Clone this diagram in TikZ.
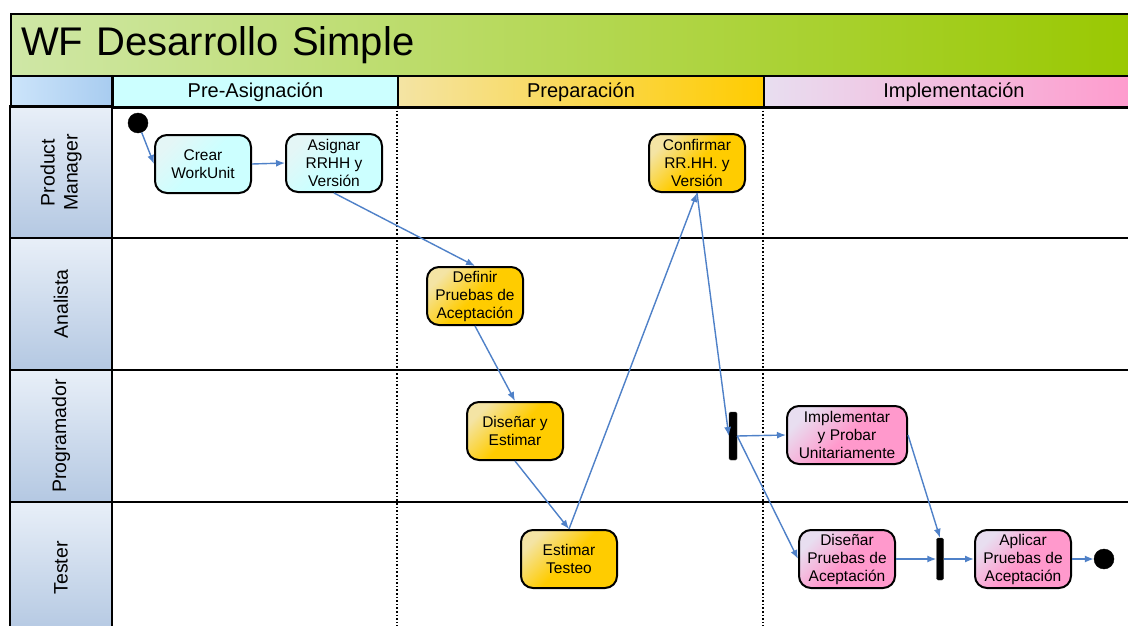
\documentclass[tikz,border=0pt]{standalone}
\usepackage{fontspec}
\setmainfont{Liberation Sans}
\usepackage{color}
\usepackage{tikz}
\usetikzlibrary{arrows.meta, calc}

\definecolor{titlegreen}{HTML}{99C800}
\definecolor{titlelight}{HTML}{CFE7A6}
\definecolor{lanegrey}{HTML}{B4C8E2}
\definecolor{lanelight}{HTML}{E8EFF8}
\definecolor{headblue}{HTML}{A8CCF0}
\definecolor{headbluelight}{HTML}{CCE4FA}
\definecolor{precyan}{HTML}{CCFFFF}
\definecolor{precyanlight}{HTML}{E4F6F6}
\definecolor{prepyellow}{HTML}{FFCC00}
\definecolor{preplight}{HTML}{F4E4A4}
\definecolor{implpink}{HTML}{FF99CC}
\definecolor{impllight}{HTML}{E8DEF0}
\definecolor{flowblue}{HTML}{4F81C8}

\begin{document}
\begin{tikzpicture}[x=1pt, y=-1pt,
  act/.style={draw=black, rounded corners=12pt, line width=2pt,
    minimum width=96pt, minimum height=58pt, inner sep=2pt, align=center,
    font=\fontsize{15.5}{18}\selectfont},
  preact/.style={act, top color=precyanlight, bottom color=precyan, middle color=precyan, shading angle=45},
  prepact/.style={act, top color=preplight, bottom color=prepyellow, middle color=prepyellow, shading angle=45},
  implact/.style={act, top color=impllight, bottom color=implpink, middle color=implpink, shading angle=45},
  flow/.style={-{Latex[length=9pt,width=7pt]}, draw=flowblue, line width=1.4pt},
  syncbar/.style={fill=black, draw=black!80, rounded corners=1.5pt, minimum width=8pt,
    minimum height=46pt, inner sep=0pt},
  dot/.style={circle, fill=black, draw=black, minimum size=20pt, inner sep=0pt},
  lanelabel/.style={draw=black, line width=2pt, rotate=90, minimum width=132pt,
    minimum height=102pt, top color=lanelight, bottom color=lanegrey,
    align=center, font=\fontsize{19.5}{23}\selectfont},
  phase/.style={draw=black, line width=2pt, minimum height=32pt, anchor=north west,
    inner sep=0pt, font=\fontsize{20}{24}\selectfont},
  laneline/.style={draw=black, line width=2.4pt},
  phaseline/.style={draw=black, line width=1.6pt, dotted}
]
\useasboundingbox (0,0) rectangle (1128,626);
\clip (0,0) rectangle (1128,626);
\fill[white] (0,0) rectangle (1128,626);

% title and phase headers
\node[draw=black, line width=2pt, anchor=north west, left color=titlelight,
  right color=titlegreen, minimum height=62pt, text width=1112pt, inner xsep=10pt,
  align=left, font=\fontsize{40}{44}\selectfont] (title) at (10,13) {WF Desarrollo Simple};
\node[phase, minimum width=102pt, left color=headbluelight, right color=headblue] (corner) at (10,75) {};
\node[phase, minimum width=285pt, left color=precyan, right color=precyan] (pre) at (112,75) {Pre-Asignación};
\node[phase, minimum width=366pt, left color=preplight, right color=prepyellow] (prep) at (397,75) {Preparación};
\node[phase, minimum width=380pt, left color=impllight, right color=implpink] (impl) at (763,75) {Implementación};

% lanes
\node[lanelabel] (pm) at (61,172.5) {Product\\Manager};
\node[lanelabel] (an) at (61,304) {Analista};
\node[lanelabel] (prog) at (61,436) {Programador};
\node[lanelabel] (test) at (61,568) {Tester};

\draw[phaseline] (397,107) -- (397,626);
\draw[phaseline] (763,107) -- (763,626);
\draw[laneline] (112,75) -- (112,626);
\draw[laneline] (10,107) -- (1128,107);
\draw[laneline] (10,238) -- (1128,238);
\draw[laneline] (10,370) -- (1128,370);
\draw[laneline] (10,502) -- (1128,502);

% activities
\node[dot] (start) at (138,123) {};
\node[preact] (crear) at (203,164) {Crear\\WorkUnit};
\node[preact] (asignar) at (334,163) {Asignar\\RRHH y\\Versión};
\node[prepact] (confirmar) at (697,163) {Confirmar\\RR.HH. y\\Versión};
\node[prepact] (definir) at (475,296) {Definir\\Pruebas de\\Aceptación};
\node[prepact] (disenar) at (515,431) {Diseñar y\\Estimar};
\node[prepact] (testeo) at (569,559) {Estimar\\Testeo};
\node[syncbar, minimum height=48pt] (fork) at (733,436) {};
\node[implact, minimum width=120pt] (implementar) at (847,435) {Implementar\\y Probar\\Unitariamente};
\node[implact] (disenarpa) at (847,559) {Diseñar\\Pruebas de\\Aceptación};
\node[syncbar, minimum width=7pt, minimum height=42pt] (join) at (940,559) {};
\node[implact] (aplicar) at (1023,559) {Aplicar\\Pruebas de\\Aceptación};
\node[dot] (end) at (1104,559) {};

\draw[flow] (start) -- (crear.west);
\draw[flow] (crear.east) -- (asignar.west);
\draw[flow] (asignar.south) -- (definir.north);
\draw[flow] (definir.south) -- (disenar.north);
\draw[flow] (disenar.south) -- (testeo.north);
\draw[flow] (testeo.north) -- (confirmar.south);
\draw[flow] (confirmar.south) -- (fork.west);
\draw[flow] (fork.east) -- (implementar.west);
\draw[flow] (fork.east) -- (disenarpa.west);
\draw[flow] (implementar.east) -- (join.north);
\draw[flow] (disenarpa.east) -- (join.west);
\draw[flow] (join.east) -- (aplicar.west);
\draw[flow] (aplicar.east) -- (end);

\end{tikzpicture}
\end{document}
